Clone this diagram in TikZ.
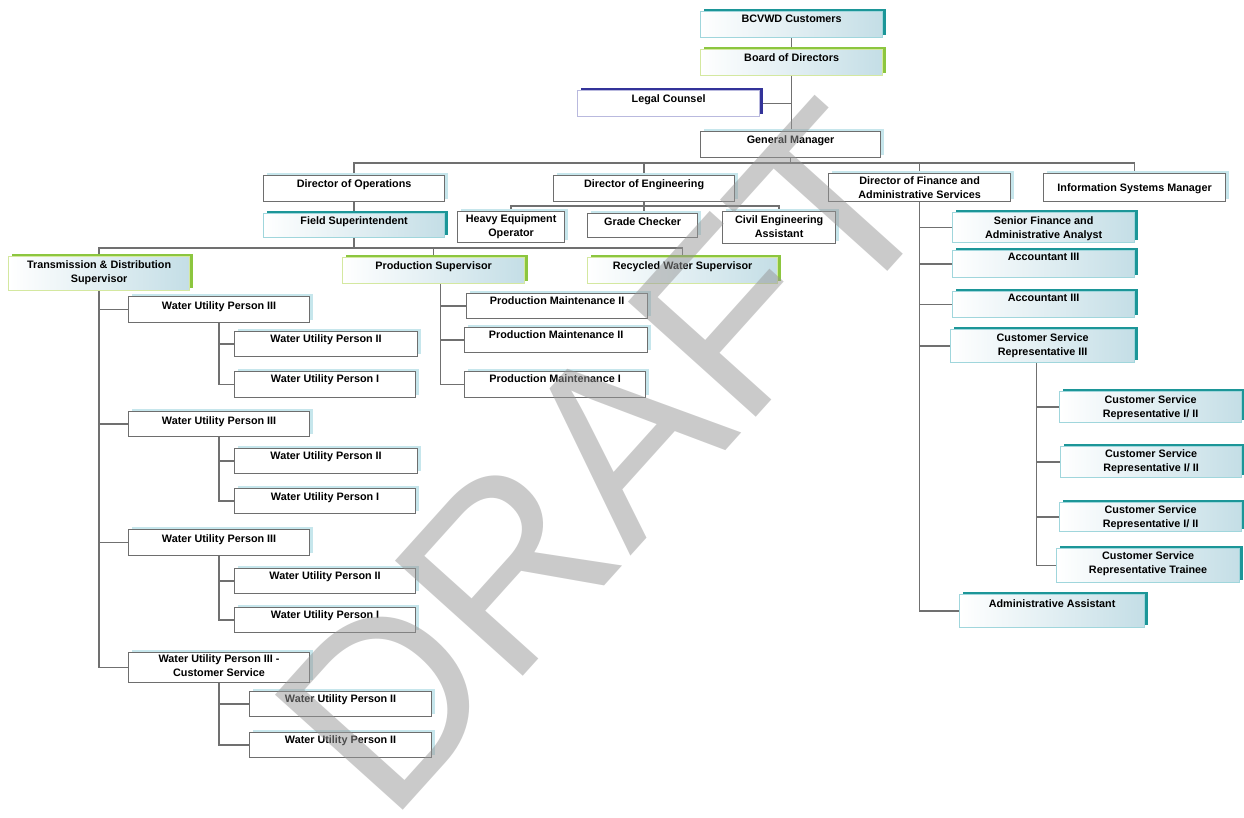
\documentclass[tikz,border=0pt]{standalone}
\usepackage{fontspec}
\setmainfont{Liberation Sans}
\usetikzlibrary{shadows,calc}
\definecolor{tealD}{RGB}{28,150,152}
\definecolor{tealL}{RGB}{160,214,220}
\definecolor{greenD}{RGB}{140,198,63}
\definecolor{greenL}{RGB}{212,232,160}
\definecolor{navyD}{RGB}{51,51,153}
\definecolor{navyL}{RGB}{185,185,222}
\definecolor{plainB}{RGB}{110,110,110}
\definecolor{plainS}{RGB}{198,230,236}
\definecolor{gradR}{RGB}{196,222,230}
\definecolor{lineC}{RGB}{112,112,112}
\definecolor{wmC}{RGB}{150,150,150}
\pgfdeclarelayer{bg}
\pgfsetlayers{bg,main}
\tikzset{
  txt/.style={inner sep=0pt, align=center, font=\fontsize{10.8}{14}\selectfont\bfseries},
  plainbox/.style={draw=plainB, line width=1.2pt, fill=white,
    general shadow={fill=plainS, shadow xshift=3pt, shadow yshift=3pt}},
  tealbox/.style={draw=tealL, line width=1.2pt, left color=white, right color=gradR,
    general shadow={fill=tealD, shadow xshift=3pt, shadow yshift=3pt}},
  greenbox/.style={draw=greenL, line width=1.2pt, left color=white, right color=gradR,
    general shadow={fill=greenD, shadow xshift=3pt, shadow yshift=3pt}},
  navybox/.style={draw=navyL, line width=1.2pt, fill=white,
    general shadow={fill=navyD, shadow xshift=3pt, shadow yshift=3pt}},
  conn/.style={draw=lineC, line width=1.6pt},
  wm/.style={inner sep=0pt, text=wmC, text opacity=0.5, font=\fontsize{250}{250}\selectfont}
}
% #1 text offset, #2 name, #3 style, #4 x, #5 y, #6 w, #7 h, #8 text
\newcommand{\obox}[8][8]{%
  \node[#3, minimum width=#6pt, minimum height=#7pt, anchor=north west, inner sep=0pt] (#2) at (#4,#5) {};
  \node[txt, anchor=north, yshift={(3.9-#1)*1pt}] (#2-t) at (#2.north) {#8};}
\begin{document}
\begin{tikzpicture}[x=1pt,y=-1pt]
\useasboundingbox (0,0) rectangle (1244,817);
\obox{bcvwd}{tealbox}{700}{11}{182}{26}{BCVWD Customers}
\obox{board}{greenbox}{700}{49}{182}{26}{Board of Directors}
\obox{legal}{navybox}{577}{90}{182}{26}{Legal Counsel}
\obox{gm}{plainbox}{700}{131}{180}{26}{General Manager}
\obox{dirops}{plainbox}{263}{175}{181}{26}{Director of Operations}
\obox{direng}{plainbox}{553}{175}{181}{26}{Director of Engineering}
\obox[7]{dirfin}{plainbox}{828}{173}{182}{28}{Director of Finance and\\Administrative Services}
\obox[14]{infosys}{plainbox}{1043}{173}{182}{28}{Information Systems Manager}
\obox[7]{fieldsup}{tealbox}{263}{213}{181}{24}{Field Superintendent}
\obox[7]{heavy}{plainbox}{457}{211}{107}{31}{Heavy Equipment\\Operator}
\obox{grade}{plainbox}{587}{213}{110}{24}{Grade Checker}
\obox{civil}{plainbox}{722}{211}{113}{32}{Civil Engineering\\Assistant}
\obox{td}{greenbox}{8}{256}{181}{34}{Transmission \& Distribution\\Supervisor}
\obox{prodsup}{greenbox}{342}{257}{182}{26}{Production Supervisor}
\obox{recycled}{greenbox}{587}{257}{190}{26}{Recycled Water Supervisor}
\obox[9]{wup3a}{plainbox}{128}{296}{181}{26}{Water Utility Person III}
\obox[7]{wup2a}{plainbox}{234}{331}{183}{25}{Water Utility Person II}
\obox[7]{wup1a}{plainbox}{234}{371}{181}{26}{Water Utility Person I}
\obox[9]{wup3b}{plainbox}{128}{411}{181}{25}{Water Utility Person III}
\obox[7]{wup2b}{plainbox}{234}{448}{183}{25}{Water Utility Person II}
\obox[8]{wup1b}{plainbox}{234}{488}{181}{25}{Water Utility Person I}
\obox[9]{wup3c}{plainbox}{128}{529}{181}{26}{Water Utility Person III}
\obox[7]{wup2c}{plainbox}{234}{568}{181}{25}{Water Utility Person II}
\obox[7]{wup1c}{plainbox}{234}{607}{181}{25}{Water Utility Person I}
\obox[6]{wup3d}{plainbox}{128}{652}{181}{30}{Water Utility Person III -\\Customer Service}
\obox[7]{wup2d}{plainbox}{249}{691}{182}{25}{Water Utility Person II}
\obox[7]{wup2e}{plainbox}{249}{732}{182}{25}{Water Utility Person II}
\obox[7]{pm2a}{plainbox}{466}{293}{181}{25}{Production Maintenance II}
\obox[7]{pm2b}{plainbox}{464}{327}{183}{25}{Production Maintenance II}
\obox[7]{pm1}{plainbox}{464}{371}{181}{26}{Production Maintenance I}
\obox{srfin}{tealbox}{952}{212}{182}{30}{Senior Finance and\\Administrative Analyst}
\obox[7]{acc1}{tealbox}{952}{250}{182}{27}{Accountant III}
\obox[7]{acc2}{tealbox}{952}{291}{182}{26}{Accountant III}
\obox{csrIII}{tealbox}{950}{329}{184}{33}{Customer Service\\Representative III}
\obox{csrA}{tealbox}{1059}{391}{182}{31}{Customer Service\\Representative I/ II}
\obox[7]{csrB}{tealbox}{1060}{446}{181}{31}{Customer Service\\Representative I/ II}
\obox[7]{csrC}{tealbox}{1059}{502}{182}{29}{Customer Service\\Representative I/ II}
\obox[7]{trainee}{tealbox}{1056}{548}{183}{34}{Customer Service\\Representative Trainee}
\obox[9]{admin}{tealbox}{959}{594}{185}{33}{Administrative Assistant}
\begin{pgfonlayer}{bg}
\draw[conn] (bcvwd.south) -- (bcvwd.south |- gm.north);
\draw[conn] (legal.east) -- (legal.east -| bcvwd.south);
\coordinate (busA) at (0,163);
\draw[conn] (gm.south) -- (gm.south |- busA);
\draw[conn] (dirops.north) |- (busA -| infosys.north) -- (infosys.north);
\draw[conn] (direng.north) -- (direng.north |- busA);
\draw[conn] (dirfin.north) -- (dirfin.north |- busA);
\draw[conn] (dirops.south) -- (fieldsup.north);
\coordinate (busB) at (0,206);
\draw[conn] (direng.south) -- (direng.south |- grade.north);
\draw[conn] (heavy.north) |- (busB -| civil.north) -- (civil.north);
\coordinate (busC) at (0,248);
\draw[conn] (fieldsup.south) -- (fieldsup.south |- busC);
\draw[conn] (td.north) |- (busC -| recycled.north) -- (recycled.north);
\draw[conn] (prodsup.north) -- (prodsup.north |- busC);
\draw[conn] (td.south) |- (wup3d.west);
\foreach \n in {wup3a,wup3b,wup3c} \draw[conn] (td.south |- \n.west) -- (\n.west);
\draw[conn] (wup3a.south) |- (wup1a.west);
\draw[conn] (wup3a.south |- wup2a.west) -- (wup2a.west);
\draw[conn] (wup3b.south) |- (wup1b.west);
\draw[conn] (wup3b.south |- wup2b.west) -- (wup2b.west);
\draw[conn] (wup3c.south) |- (wup1c.west);
\draw[conn] (wup3c.south |- wup2c.west) -- (wup2c.west);
\draw[conn] (wup3d.south) |- (wup2e.west);
\draw[conn] (wup3d.south |- wup2d.west) -- (wup2d.west);
\coordinate (pmT) at ([xshift=7pt]prodsup.south);
\draw[conn] (pmT) |- (pm1.west);
\draw[conn] (pmT |- pm2a.west) -- (pm2a.west);
\draw[conn] (pmT |- pm2b.west) -- (pm2b.west);
\draw[conn] (dirfin.south) |- (admin.west);
\foreach \n in {srfin,acc1,acc2,csrIII} \draw[conn] (dirfin.south |- \n.west) -- (\n.west);
\coordinate (csrT) at ([xshift=-6pt]csrIII.south);
\draw[conn] (csrT) |- (trainee.west);
\foreach \n in {csrA,csrB,csrC} \draw[conn] (csrT |- \n.west) -- (\n.west);
\end{pgfonlayer}
\node[wm, rotate=48] (draft) at (604,458) {DRAFT};
\end{tikzpicture}
\end{document}
